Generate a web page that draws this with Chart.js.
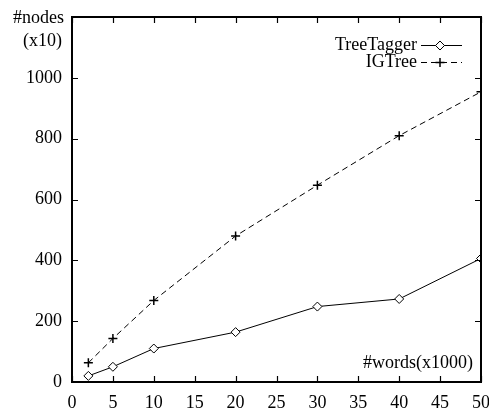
<!DOCTYPE html>
<html>
<head>
<meta charset="utf-8">
<script src="https://cdn.jsdelivr.net/npm/chart.js@4/dist/chart.umd.min.js"></script>
<style>
  html, body { margin: 0; padding: 0; background: #fff; }
  #wrap { width: 489px; height: 412px; }
</style>
</head>
<body>
<div id="wrap"><canvas id="nodesChart" width="489" height="412"></canvas></div>
<script>
const words = [2, 5, 10, 20, 30, 40, 50];
const treeTagger = [20, 50, 110, 164, 248, 273, 406];
const igTree = [63, 143, 268, 480, 647, 810, 954];
const xTicks = [0, 5, 10, 15, 20, 25, 30, 35, 40, 45, 50];
const yTicks = [0, 200, 400, 600, 800, 1000, 1200];

const FONT = "'Liberation Serif', 'DejaVu Serif', serif";

// gnuplot-like frame, inward ticks, axis titles and legend
const framePlugin = {
  id: "frame",
  afterDraw(c) {
    const ctx = c.ctx;
    const a = c.chartArea;
    const xs = c.scales.x;
    const ys = c.scales.y;
    const len = 6;

    ctx.save();
    ctx.strokeStyle = "#000";
    ctx.lineWidth = 2;
    ctx.strokeRect(a.left, a.top, a.right - a.left, a.bottom - a.top);

    ctx.lineWidth = 1.2;
    ctx.beginPath();
    xTicks.forEach((v) => {
      const px = Math.round(xs.getPixelForValue(v)) + 0.5;
      ctx.moveTo(px, a.bottom);
      ctx.lineTo(px, a.bottom - len);
      ctx.moveTo(px, a.top);
      ctx.lineTo(px, a.top + len);
    });
    yTicks.forEach((v) => {
      const py = Math.round(ys.getPixelForValue(v)) + 0.5;
      ctx.moveTo(a.left, py);
      ctx.lineTo(a.left + len, py);
      ctx.moveTo(a.right, py);
      ctx.lineTo(a.right - len, py);
    });
    ctx.stroke();

    ctx.fillStyle = "#000";
    ctx.font = "18px " + FONT;
    ctx.textBaseline = "middle";
    ctx.textAlign = "right";
    ctx.fillText("#nodes", a.left - 8, a.top + 1);
    ctx.fillText("(x10)", a.left - 10, a.top + 24);
    ctx.fillText("#words(x1000)", a.right - 8, a.bottom - 19);

    // legend: text then sample line with marker
    c.data.datasets.forEach((ds, i) => {
      const y = 45 + i * 17;
      ctx.fillStyle = "#000";
      ctx.textAlign = "right";
      ctx.fillText(ds.label, 417, y);
      ctx.beginPath();
      ctx.lineWidth = 1;
      ctx.setLineDash(ds.borderDash || []);
      ctx.moveTo(421, y + 0.5);
      ctx.lineTo(462, y + 0.5);
      ctx.stroke();
      ctx.setLineDash([]);
      ctx.fillStyle = "#fff";
      ctx.lineWidth = ds.pointBorderWidth;
      Chart.helpers.drawPoint(ctx, {
        pointStyle: ds.pointStyle,
        radius: ds.pointRadius,
        borderWidth: ds.pointBorderWidth
      }, 440, y + 0.5);
    });
    ctx.restore();
  }
};

new Chart(document.getElementById("nodesChart"), {
  type: "line",
  data: {
    datasets: [
      {
        label: "TreeTagger",
        data: words.map((w, i) => ({ x: w, y: treeTagger[i] })),
        borderColor: "#000",
        backgroundColor: "#fff",
        borderWidth: 1,
        pointStyle: "rectRot",
        pointRadius: 4.5,
        pointBorderWidth: 1,
        pointBackgroundColor: "#fff",
        pointBorderColor: "#000"
      },
      {
        label: "IGTree",
        data: words.map((w, i) => ({ x: w, y: igTree[i] })),
        borderColor: "#000",
        backgroundColor: "#000",
        borderWidth: 1,
        borderDash: [6, 4],
        pointStyle: "cross",
        pointRadius: 4.5,
        pointBorderWidth: 1.5,
        pointBorderColor: "#000"
      }
    ]
  },
  options: {
    responsive: false,
    animation: false,
    events: [],
    layout: { padding: { top: 17, right: 8, left: 0, bottom: 0 } },
    plugins: {
      legend: { display: false },
      tooltip: { enabled: false }
    },
    scales: {
      x: {
        type: "linear",
        min: 0,
        max: 50,
        afterBuildTicks: (s) => { s.ticks = xTicks.map((v) => ({ value: v })); },
        afterFit: (s) => {
          s.height = 30;
          s.paddingLeft = 0;
          s.paddingRight = 0;
        },
        grid: { display: false, drawTicks: false },
        border: { display: false },
        ticks: {
          padding: 10,
          color: "#000",
          maxRotation: 0,
          font: { family: FONT, size: 18 }
        }
      },
      y: {
        min: 0,
        max: 1200,
        afterBuildTicks: (s) => { s.ticks = yTicks.map((v) => ({ value: v })); },
        afterFit: (s) => {
          s.width = 72;
          s.paddingTop = 0;
          s.paddingBottom = 0;
        },
        grid: { display: false, drawTicks: false },
        border: { display: false },
        ticks: {
          padding: 10,
          color: "#000",
          font: { family: FONT, size: 18 },
          callback: (v) => (v === 1200 ? "" : v)
        }
      }
    }
  },
  plugins: [framePlugin]
});
</script>
</body>
</html>
